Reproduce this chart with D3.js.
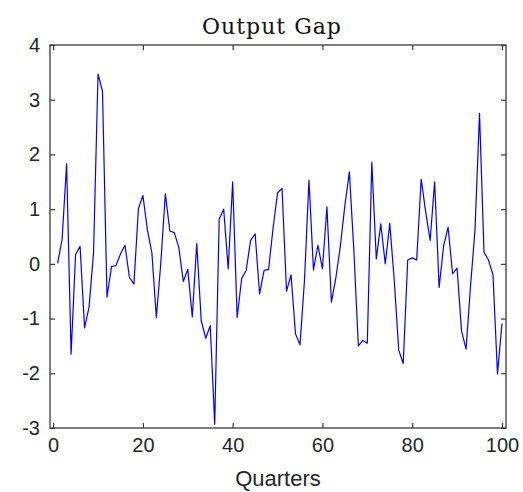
<!DOCTYPE html>
<html>
<head>
<meta charset="utf-8">
<script src="https://cdn.jsdelivr.net/npm/d3@7"></script>
<style>
  html, body { margin: 0; padding: 0; background: #fff; }
  svg { display: block; }
</style>
</head>
<body>
<svg id="chart" width="523" height="492"></svg>
<script>
// Output gap by quarter
const quarters = d3.range(1, 101);
const outputGap = [
   0.01,  0.45,  1.83, -1.65,  0.17,  0.32, -1.17, -0.79,  0.20,  3.47,
   3.15, -0.61, -0.05, -0.03,  0.18,  0.34, -0.25, -0.37,  1.01,  1.25,
   0.62,  0.20, -0.98,  0.03,  1.28,  0.60,  0.57,  0.30, -0.32, -0.10,
  -0.97,  0.37, -1.04, -1.36, -1.13, -2.93,  0.82,  1.00, -0.09,  1.50,
  -0.98, -0.27, -0.12,  0.43,  0.55, -0.55, -0.12, -0.10,  0.65,  1.30,
   1.38, -0.50, -0.20, -1.28, -1.48, -0.30,  1.53, -0.11,  0.34, -0.09,
   1.04, -0.70, -0.25,  0.33,  1.07,  1.68,  0.25, -1.50, -1.40, -1.45,
   1.86,  0.09,  0.73,  0.00,  0.74, -0.30, -1.58, -1.82,  0.07,  0.11,
   0.07,  1.55,  0.95,  0.43,  1.50, -0.43,  0.33,  0.67, -0.18, -0.08,
  -1.23, -1.56, -0.40,  0.63,  2.75,  0.21,  0.07, -0.20, -2.01, -1.09
];
const xTicks = [0, 20, 40, 60, 80, 100];
const yTicks = [-3, -2, -1, 0, 1, 2, 3, 4];
const titleText = "Output Gap";
const xLabelText = "Quarters";

const svg = d3.select("#chart");
const plot = { left: 50, right: 506, top: 45, bottom: 428 };

const x = d3.scaleLinear().domain([-0.7, 100.9]).range([plot.left, plot.right]);
const y = d3.scaleLinear().domain([-3, 4]).range([plot.bottom, plot.top]);

const axisColor = "#3a3a3a";
const labelColor = "#262626";
const tickLen = 5;
const plainNumber = d => String(d);

// Axes on all four sides with inward ticks
const axisBottomG = svg.append("g")
  .attr("transform", `translate(0,${plot.bottom})`)
  .call(d3.axisBottom(x).tickValues(xTicks).tickFormat(plainNumber)
    .tickSizeInner(-tickLen).tickSizeOuter(0).tickPadding(10));
const axisTopG = svg.append("g")
  .attr("transform", `translate(0,${plot.top})`)
  .call(d3.axisTop(x).tickValues(xTicks).tickSizeInner(-tickLen).tickSizeOuter(0).tickFormat(""));
const axisLeftG = svg.append("g")
  .attr("transform", `translate(${plot.left},0)`)
  .call(d3.axisLeft(y).tickValues(yTicks).tickFormat(plainNumber)
    .tickSizeInner(-tickLen).tickSizeOuter(0).tickPadding(10));
const axisRightG = svg.append("g")
  .attr("transform", `translate(${plot.right},0)`)
  .call(d3.axisRight(y).tickValues(yTicks).tickSizeInner(-tickLen).tickSizeOuter(0).tickFormat(""));

[axisBottomG, axisTopG, axisLeftG, axisRightG].forEach(g => {
  g.select(".domain").remove();
  g.selectAll(".tick line").attr("stroke", axisColor).attr("stroke-width", 1.2);
  g.selectAll(".tick text")
    .attr("fill", labelColor)
    .style("font-family", "'Liberation Sans', Arial, sans-serif")
    .style("font-size", "20px");
});

// Frame
svg.append("rect")
  .attr("x", plot.left).attr("y", plot.top)
  .attr("width", plot.right - plot.left).attr("height", plot.bottom - plot.top)
  .attr("fill", "none").attr("stroke", axisColor).attr("stroke-width", 1.3);

// Series line
const line = d3.line()
  .x((d, i) => x(quarters[i]))
  .y(d => y(d));
svg.append("path")
  .datum(outputGap)
  .attr("fill", "none")
  .attr("stroke", "#0000ff")
  .attr("stroke-width", 1.2)
  .attr("stroke-linejoin", "round")
  .attr("d", line);

// Title
svg.append("text")
  .attr("x", 272).attr("y", 34)
  .attr("text-anchor", "middle")
  .attr("fill", "#111")
  .style("font-family", "'DejaVu Serif', serif")
  .style("font-size", "22px")
  .style("letter-spacing", "1px")
  .text(titleText);

// X-axis label
svg.append("text")
  .attr("x", (plot.left + plot.right) / 2).attr("y", 486)
  .attr("text-anchor", "middle")
  .attr("fill", labelColor)
  .style("font-family", "'Liberation Sans', Arial, sans-serif")
  .style("font-size", "22px")
  .text(xLabelText);
</script>
</body>
</html>
